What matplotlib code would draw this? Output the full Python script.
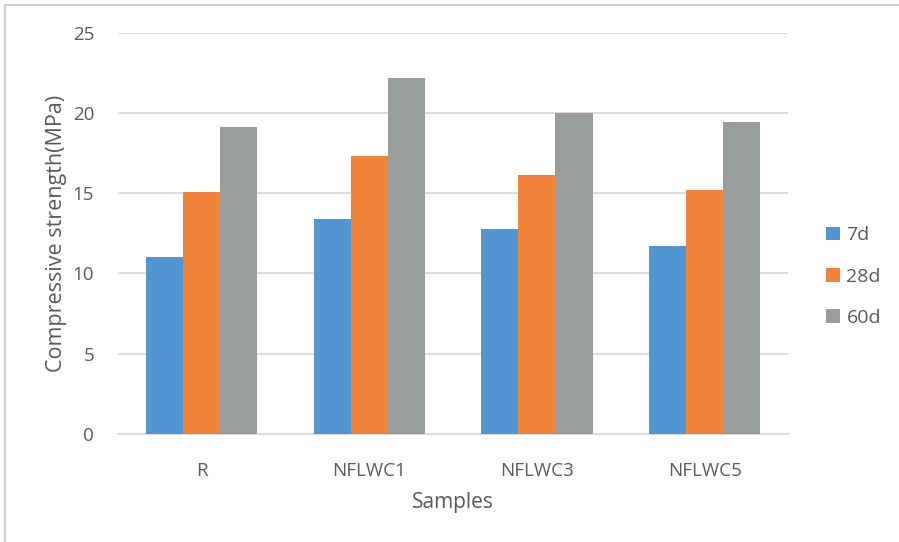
import matplotlib.pyplot as plt
from matplotlib.lines import Line2D
import numpy as np

samples = ["R", "NFLWC1", "NFLWC3", "NFLWC5"]
ages = ["7d", "28d", "60d"]
s7 = [11.0, 13.4, 12.8, 11.7]
s28 = [15.1, 17.3, 16.1, 15.2]
s60 = [19.1, 22.2, 20.0, 19.4]
colors = ["#5097D2", "#F0823A", "#9A9D9E"]

plt.rcParams['font.family'] = ['Open Sans', 'DejaVu Sans']
txt = "#595959"

fig = plt.figure(figsize=(8.99, 5.42), dpi=100)
ax = fig.add_axes([0.131, 0.199, 0.746, 0.741])

x = np.arange(len(samples))
w = 0.221
for i, vals in enumerate([s7, s28, s60]):
    ax.bar(x + (i - 1) * w, vals, w, color=colors[i], label=ages[i], zorder=3)

ax.set_xlim(-0.5, 3.5)
ax.set_ylim(0, 25)
ax.set_yticks(range(0, 26, 5))
ax.set_xticks(x)
ax.set_xticklabels(samples)
ax.yaxis.grid(True, color="#D9D9D9", linewidth=1.3, zorder=0)
for sp in ["top", "right", "left"]:
    ax.spines[sp].set_visible(False)
ax.spines["bottom"].set_color("#D9D9D9")
ax.spines["bottom"].set_linewidth(1.3)
ax.tick_params(length=0, labelsize=13.5, colors=txt, pad=20)
ax.tick_params(axis="y", pad=17)
ax.set_xlabel("Samples", fontsize=15, color=txt, labelpad=9)
ax.set_ylabel("Compressive strength(MPa)", fontsize=15.5, color=txt, labelpad=4)

leg = ax.legend(loc="center left", bbox_to_anchor=(1.03, 0.392), frameon=False,
                fontsize=14, handlelength=0.7, handleheight=0.7,
                handletextpad=0.35, labelspacing=1.2)
for t in leg.get_texts():
    t.set_color(txt)

# outer chart frame (left and top edges)
fig.add_artist(Line2D([0.0058, 0.0058], [0, 0.991], color="#D0D0D0", lw=1.5, transform=fig.transFigure))
fig.add_artist(Line2D([0.0058, 1], [0.991, 0.991], color="#D0D0D0", lw=1.5, transform=fig.transFigure))

fig.savefig("out.png", dpi=100)
